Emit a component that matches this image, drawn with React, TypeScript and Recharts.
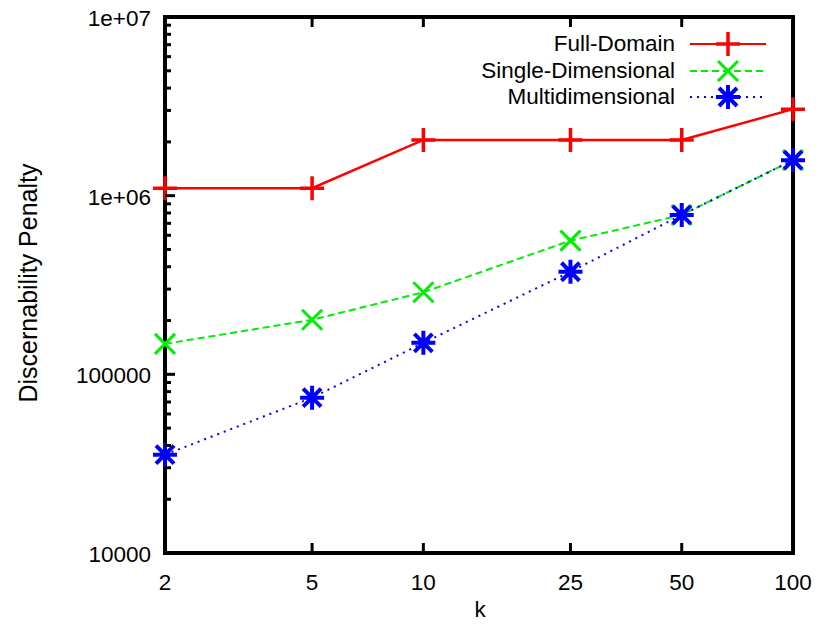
import React from 'react';
import { LineChart, Line, XAxis, YAxis, Legend } from 'recharts';

const kValues = [2, 5, 10, 25, 50, 100];
const fullDomain = [1100000, 1100000, 2050000, 2050000, 2050000, 3050000];
const singleDimensional = [148000, 202000, 288000, 560000, 780000, 1580000];
const multidimensional = [35500, 74000, 150000, 375000, 780000, 1580000];

const seriesNames = ['Full-Domain', 'Single-Dimensional', 'Multidimensional'];
const xTicks = [2, 5, 10, 25, 50, 100];
const yMajorTicks = [10000, 100000, 1000000, 10000000];
const yTickLabels = ['10000', '100000', '1e+06', '1e+07'];
const minorSteps = [2, 3, 4, 5, 6, 7, 8, 9];

const FONT = '"Liberation Sans", Arial, Helvetica, sans-serif';
const RED = '#ff0000';
const GREEN = '#00ee00';
const BLUE = '#0000ff';
const AXIS_LINE = { stroke: '#000', strokeWidth: 4, strokeLinecap: 'square' as const };

const data = kValues.map((k, i) => ({
  k,
  full: fullDomain[i],
  single: singleDimensional[i],
  multi: multidimensional[i],
}));

// gnuplot style log ticks: majors at decades, minors at 2..9 x decade
const yTicks: number[] = [];
yMajorTicks.forEach((d, i) => {
  yTicks.push(d);
  if (i < yMajorTicks.length - 1) minorSteps.forEach(m => yTicks.push(d * m));
});

const isMajor = (v: number) => yMajorTicks.indexOf(v) >= 0;

const YTickLeft = (props: any) => {
  const { x, y, payload } = props;
  const idx = yMajorTicks.indexOf(payload.value);
  return (
    <g>
      <line x1={x} y1={y} x2={x + (idx >= 0 ? 10 : 6)} y2={y} stroke="#000" strokeWidth={3} />
      {idx >= 0 && (
        <text x={x - 14} y={y + 9} textAnchor="end" fontSize={22.5} fontFamily={FONT} fill="#000">
          {yTickLabels[idx]}
        </text>
      )}
    </g>
  );
};

const YTickRight = (props: any) => {
  const { x, y, payload } = props;
  return <line x1={x} y1={y} x2={x - (isMajor(payload.value) ? 10 : 6)} y2={y} stroke="#000" strokeWidth={3} />;
};

const XTickBottom = (props: any) => {
  const { x, y, payload } = props;
  return (
    <g>
      <line x1={x} y1={y} x2={x} y2={y - 10} stroke="#000" strokeWidth={3} />
      <text x={x} y={y + 37} textAnchor="middle" fontSize={22.5} fontFamily={FONT} fill="#000">
        {payload.value}
      </text>
    </g>
  );
};

const XTickTop = (props: any) => {
  const { x, y } = props;
  return <line x1={x} y1={y} x2={x} y2={y + 10} stroke="#000" strokeWidth={3} />;
};

const plusPath = (cx: number, cy: number, r: number) => `M${cx - r},${cy}H${cx + r}M${cx},${cy - r}V${cy + r}`;
const crossPath = (cx: number, cy: number, r: number) =>
  `M${cx - r},${cy - r}L${cx + r},${cy + r}M${cx - r},${cy + r}L${cx + r},${cy - r}`;

const PlusMark = ({ cx, cy }: any) => (
  <path d={plusPath(cx, cy, 12)} stroke={RED} strokeWidth={3.5} fill="none" />
);
const CrossMark = ({ cx, cy }: any) => (
  <path d={crossPath(cx, cy, 10)} stroke={GREEN} strokeWidth={3} fill="none" />
);
const StarMark = ({ cx, cy }: any) => (
  <path d={plusPath(cx, cy, 12) + crossPath(cx, cy, 9)} stroke={BLUE} strokeWidth={4} fill="none" />
);

const legendStyles = [
  { color: RED, dash: undefined, Mark: PlusMark },
  { color: GREEN, dash: '7 4', Mark: CrossMark },
  { color: BLUE, dash: '2 5', Mark: StarMark },
];

const LegendBox = () => (
  <div style={{ fontFamily: FONT, fontSize: 22.5, color: '#000' }}>
    {seriesNames.map((name, i) => {
      const s = legendStyles[i];
      return (
        <div key={name} style={{ display: 'flex', alignItems: 'center', height: 26.5 }}>
          <div style={{ width: 300, textAlign: 'right', lineHeight: '26px' }}>{name}</div>
          <svg width={90} height={26} style={{ marginLeft: 13 }}>
            <line x1={2} y1={13} x2={78} y2={13} stroke={s.color} strokeWidth={2} strokeDasharray={s.dash} />
            <s.Mark cx={40} cy={13} />
          </svg>
        </div>
      );
    })}
  </div>
);

const App = () => {
  return (
    <div style={{ position: 'absolute', left: 0, top: 0, background: '#fff' }}>
      <LineChart width={821} height={632} data={data} margin={{ top: 16, right: 27, bottom: 39, left: 0 }}>
        <XAxis
          xAxisId="bottom"
          dataKey="k"
          type="number"
          scale="log"
          domain={[2, 100]}
          ticks={xTicks}
          interval={0}
          height={40}
          tickSize={0}
          tickMargin={0}
          tick={<XTickBottom />}
          axisLine={AXIS_LINE}
          label={(p: any) => (
            <text x={480} y={617} textAnchor="middle" fontSize={22.5} fontFamily={FONT} fill="#000">
              k
            </text>
          )}
        />
        <XAxis
          xAxisId="top"
          orientation="top"
          dataKey="k"
          type="number"
          scale="log"
          domain={[2, 100]}
          ticks={xTicks}
          interval={0}
          height={1}
          tickSize={0}
          tickMargin={0}
          tick={<XTickTop />}
          axisLine={AXIS_LINE}
        />
        <YAxis
          yAxisId="left"
          type="number"
          scale="log"
          domain={[10000, 10000000]}
          ticks={yTicks}
          interval={0}
          width={165}
          tickSize={0}
          tickMargin={0}
          tick={<YTickLeft />}
          axisLine={AXIS_LINE}
          label={(p: any) => {
            const cy = p.viewBox.y + p.viewBox.height / 2 - 2;
            return (
              <text x={37} y={cy} transform={`rotate(-90 37 ${cy})`} textAnchor="middle" fontSize={25} fontFamily={FONT} fill="#000">
                Discernability Penalty
              </text>
            );
          }}
        />
        <YAxis
          yAxisId="right"
          orientation="right"
          type="number"
          scale="log"
          domain={[10000, 10000000]}
          ticks={yTicks}
          interval={0}
          width={1}
          tickSize={0}
          tickMargin={0}
          tick={<YTickRight />}
          axisLine={AXIS_LINE}
        />
        <Legend
          layout="vertical"
          align="center"
          verticalAlign="middle"
          content={<LegendBox />}
          wrapperStyle={{ left: 375, top: 31, width: 420, height: 80 }}
        />
        <Line xAxisId="bottom" yAxisId="left" dataKey="full" name={seriesNames[0]} stroke={RED} strokeWidth={2.5}
          dot={<PlusMark />} activeDot={false} isAnimationActive={false} />
        <Line xAxisId="bottom" yAxisId="left" dataKey="single" name={seriesNames[1]} stroke={GREEN} strokeWidth={2}
          strokeDasharray="7 4" dot={<CrossMark />} activeDot={false} isAnimationActive={false} />
        <Line xAxisId="bottom" yAxisId="left" dataKey="multi" name={seriesNames[2]} stroke={BLUE} strokeWidth={2}
          strokeDasharray="2 5" dot={<StarMark />} activeDot={false} isAnimationActive={false} />
      </LineChart>
    </div>
  );
};

export default App;
